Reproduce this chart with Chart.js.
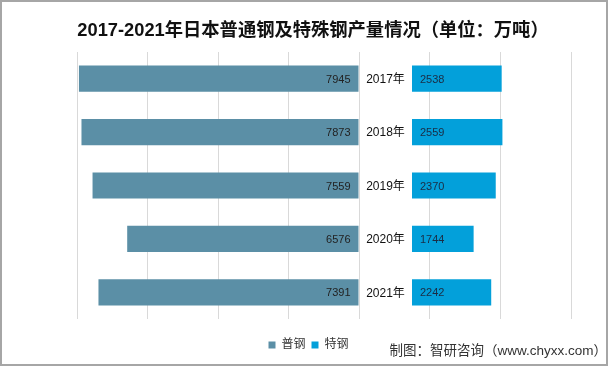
<!DOCTYPE html>
<html>
<head>
<meta charset="utf-8">
<script src="https://cdn.jsdelivr.net/npm/chart.js@4"></script>
<style>
  html, body { margin: 0; padding: 0; background: #fff; }
</style>
</head>
<body>
<canvas id="myChart" width="608" height="366"></canvas>
<script>
// data (万吨)
const years = ['2017年', '2018年', '2019年', '2020年', '2021年'];
const ordinarySteel = [7945, 7873, 7559, 6576, 7391];
const specialSteel = [2538, 2559, 2370, 1744, 2242];
const seriesNames = ['普钢', '特钢'];
const chartTitle = '2017-2021年日本普通钢及特殊钢产量情况（单位：万吨）';
const sourceNote = '制图：智研咨询（www.chyxx.com）';

const cjk = '"Liberation Sans", "Noto Sans CJK SC", sans-serif';

// value labels + year labels in the gap between the two halves
const labelPlugin = {
  id: 'barLabels',
  afterDatasetsDraw(chart) {
    const ctx = chart.ctx;
    const left = chart.getDatasetMeta(0);
    const right = chart.getDatasetMeta(1);
    const midX = chart.scales.xR.getPixelForValue(-750);
    ctx.save();
    ctx.textBaseline = 'middle';
    ctx.font = '11px ' + cjk;
    left.data.forEach((bar, i) => {
      ctx.fillStyle = '#222';
      ctx.textAlign = 'right';
      ctx.fillText(ordinarySteel[i], bar.base - 8, bar.y + 1);
    });
    right.data.forEach((bar, i) => {
      ctx.fillStyle = '#1b2c44';
      ctx.textAlign = 'left';
      ctx.fillText(specialSteel[i], bar.base + 8, bar.y + 1);
      ctx.fillStyle = '#111';
      ctx.textAlign = 'center';
      ctx.font = '12px ' + cjk;
      ctx.fillText(years[i], midX, bar.y + 1);
      ctx.font = '11px ' + cjk;
    });
    ctx.restore();
  },
  afterDraw(chart) {
    const ctx = chart.ctx;
    ctx.save();
    // title sits a little right of the canvas centre in the original
    ctx.font = 'bold 18.3px ' + cjk;
    ctx.fillStyle = '#111';
    ctx.textAlign = 'center';
    ctx.textBaseline = 'middle';
    ctx.fillText(chartTitle, 313, 31);
    ctx.font = '13.5px ' + cjk;
    ctx.fillStyle = '#333';
    ctx.textAlign = 'right';
    ctx.fillText(sourceNote, 607, 351);
    // thin frame round the picture
    ctx.strokeStyle = '#a6a6a6';
    ctx.lineWidth = 2;
    ctx.strokeRect(1, 1, chart.width - 2, chart.height - 2);
    ctx.restore();
  },
};

// keep the hidden x axes as a fixed strip under the plot
const fixHeight = (scale) => { scale.height = 14; };

const chart1 = document.getElementById('myChart').getContext('2d');
const myChart = new Chart(chart1, {
  type: 'bar',
  data: {
    labels: years,
    datasets: [
      {
        label: seriesNames[0],
        data: ordinarySteel,
        xAxisID: 'xL',
        backgroundColor: '#5b8fa6',
      },
      {
        label: seriesNames[1],
        data: specialSteel,
        xAxisID: 'xR',
        backgroundColor: '#03a0da',
      },
    ],
  },
  options: {
    responsive: false,
    animation: false,
    indexAxis: 'y',
    datasets: {
      bar: {
        grouped: false,
        categoryPercentage: 1,
        barPercentage: 0.49,
      },
    },
    layout: {
      padding: { left: 46, right: 37, top: 52, bottom: 5 },
    },
    scales: {
      y: {
        ticks: { display: false },
        grid: { display: false },
        border: { display: false },
        afterFit: (scale) => { scale.width = 31; },
      },
      xL: {
        type: 'linear',
        position: 'bottom',
        stack: 'x',
        stackWeight: 282,
        min: 0,
        max: 8000,
        reverse: true,
        ticks: { display: false, stepSize: 2000 },
        grid: { color: '#d9d9d9', drawTicks: false },
        border: { display: false },
        afterFit: fixHeight,
      },
      xR: {
        type: 'linear',
        position: 'bottom',
        stack: 'x',
        stackWeight: 212,
        min: -1500,
        max: 4500,
        ticks: { display: false, stepSize: 2000 },
        grid: { color: '#d9d9d9', drawTicks: false },
        border: { display: false },
        afterFit: fixHeight,
      },
    },
    plugins: {
      title: { display: false },
      legend: {
        position: 'bottom',
        labels: {
          boxWidth: 7,
          boxHeight: 7,
          padding: 6,
          color: '#333',
          font: { size: 12, family: cjk },
        },
      },
      tooltip: { enabled: false },
    },
  },
  plugins: [labelPlugin],
});
</script>
</body>
</html>
